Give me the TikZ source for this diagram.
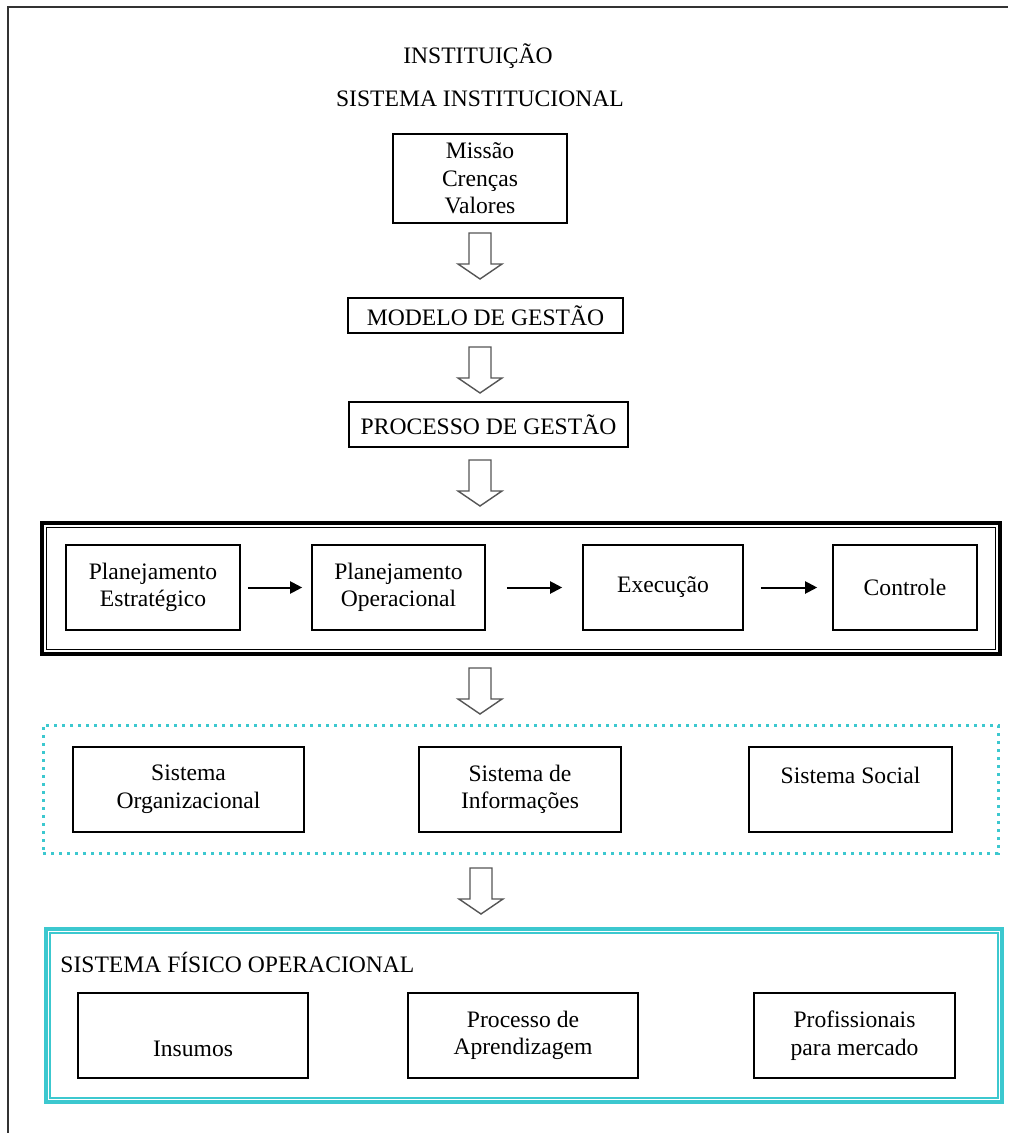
\documentclass[tikz,border=0pt]{standalone}
\usepackage{fontspec}
\setmainfont{Liberation Serif}
\usetikzlibrary{arrows.meta}
\definecolor{turq}{HTML}{3CC8CF}
\definecolor{arrowgray}{HTML}{555555}
\newcommand\boxfont{\fontsize{11.8pt}{13.8pt}\selectfont}

\begin{document}
\begin{tikzpicture}[x=0.5pt,y=-0.5pt,
  box/.style={draw=black, line width=0.8pt, align=center, inner sep=0pt, font=\boxfont},
  caption/.style={inner sep=0pt, font=\boxfont},
  flow/.style={-{Triangle[length=6pt,width=6pt]}, line width=1pt},
  harrow/.pic={\draw[line width=0.7pt, draw=arrowgray, line join=miter]
     (-11,0) -- (-11,31) -- (-22,31) -- (0,46) -- (22,31) -- (11,31) -- (11,0) -- cycle;}
]
\useasboundingbox (0,0) rectangle (1008,1133);
\fill[white] (0,0) rectangle (1008,1133);

% page frame (open at right and bottom)
\draw[line width=1pt, draw=black!80] (8,1133) -- (8,7) -- (1008,7);

% headings
\node[caption] (inst) at (478,56) {INSTITUIÇÃO};
\node[caption] (sisinst) at (480,99) {SISTEMA INSTITUCIONAL};

% institutional system
\node[box, minimum width=87pt, minimum height=44.5pt] (missao) at (480,178.5) {Missão\\Crenças\\Valores};
\pic at (480,233) {harrow};
\node[box, minimum width=137.5pt, minimum height=17.5pt] (modelo) at (485.5,315.5) {MODELO DE GESTÃO};
\pic at (480,347) {harrow};
\node[box, minimum width=139.5pt, minimum height=22.5pt] (processo) at (488.5,424.5) {PROCESSO DE GESTÃO};
\pic at (480,460) {harrow};

% management cycle
\node[draw, line width=1.6pt, minimum width=479pt, minimum height=65.5pt, inner sep=0pt] (ciclo) at (521,588.5) {};
\draw[line width=0.6pt] ([shift={(6,6)}]ciclo.north west) rectangle ([shift={(-6,-6)}]ciclo.south east);
\node[box, minimum width=87pt, minimum height=42.5pt] (pe) at (153,587.5) {Planejamento\\Estratégico};
\node[box, minimum width=86.5pt, minimum height=42.5pt] (po) at (398.5,587.5) {Planejamento\\Operacional};
\node[box, minimum width=80pt, minimum height=42.5pt] (ex) at (663,587.5) {Execução};
\node[box, minimum width=72pt, minimum height=42.5pt] (ct) at (905,587.5) {Controle};
\draw[flow, shorten <=3.5pt, shorten >=4.5pt] (pe.east) -- (po.west);
\draw[flow, shorten <=10.5pt, shorten >=10pt] (po.east) -- (ex.west);
\draw[flow, shorten <=8.5pt, shorten >=7.5pt] (ex.east) -- (ct.west);
\pic at (480,668) {harrow};

% subsystems
\node[draw=turq, line width=1.5pt, dash pattern=on 1.5pt off 2.5pt, minimum width=477.5pt, minimum height=64pt, inner sep=0pt] (subsis) at (520.5,789) {};
\node[box, minimum width=115.5pt, minimum height=42.5pt] (so) at (188.5,789.5) {Sistema\\Organizacional};
\node[box, minimum width=101pt, minimum height=42.5pt] (si) at (520,789.5) {Sistema de\\Informações};
\node[box, minimum width=101.5pt, minimum height=42.5pt] (ss) at (850.5,789.5) {Sistema Social\\\phantom{Sistema}};
\pic at (481,868) {harrow};

% physical-operational system
\node[draw=turq, line width=2pt, minimum width=478pt, minimum height=86.5pt, inner sep=0pt] (fisico) at (524,1015.5) {};
\draw[turq, line width=0.8pt] ([shift={(6,6)}]fisico.north west) rectangle ([shift={(-6,-6)}]fisico.south east);
\node[caption, anchor=west] (sfo) at (60,962) {SISTEMA FÍSICO OPERACIONAL};
\node[box, minimum width=115pt, minimum height=42.5pt] (ins) at (193,1035.5) {\phantom{Insumos}\\Insumos};
\node[box, minimum width=115pt, minimum height=42.5pt] (pa) at (523,1035.5) {Processo de\\Aprendizagem};
\node[box, minimum width=100.5pt, minimum height=42.5pt] (pm) at (854.5,1035.5) {Profissionais\\para mercado};
\end{tikzpicture}
\end{document}
